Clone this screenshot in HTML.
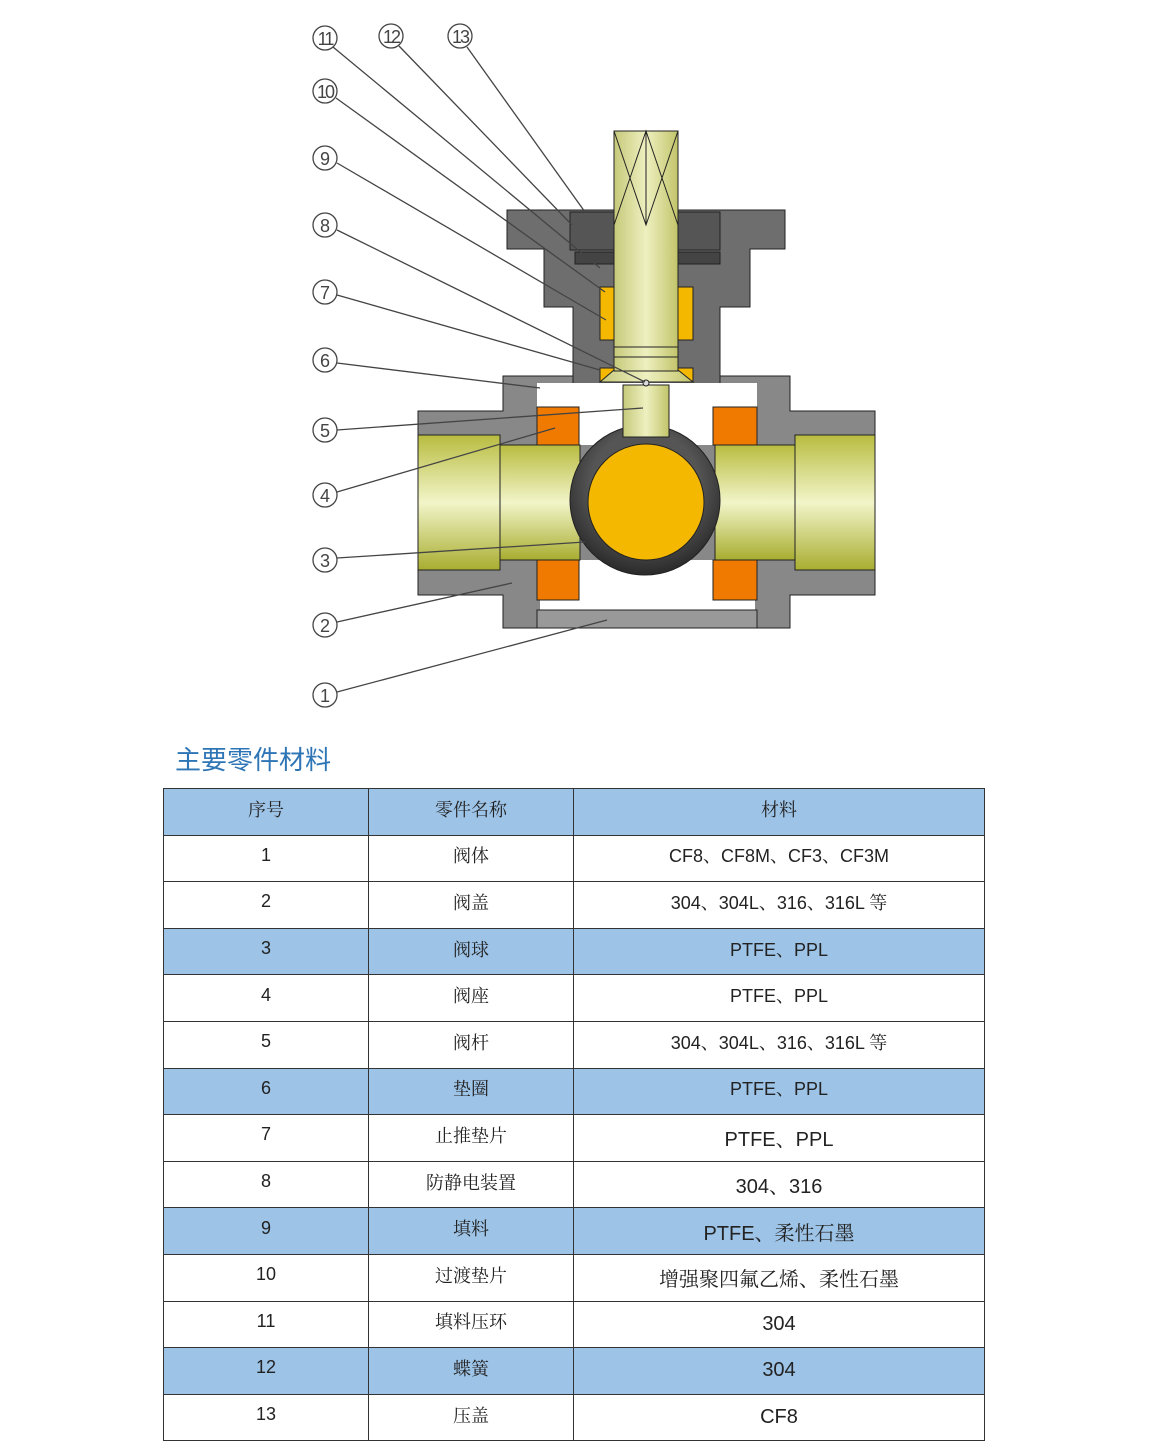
<!DOCTYPE html>
<html><head><meta charset="utf-8"><style>
html,body{margin:0;padding:0;background:#fff;width:1150px;height:1454px;overflow:hidden;position:relative;font-family:"Liberation Sans","Noto Sans CJK SC",sans-serif}
svg{position:absolute;left:0;top:0}
.title{position:absolute;left:175px;top:740px;font-size:26px;color:#2e75b6;font-family:"Noto Sans CJK SC",sans-serif;letter-spacing:0px}
table{position:absolute;left:163px;top:788px;border-collapse:collapse;width:822px}
td{border:1px solid #333;height:39.6px;padding:0 0 6px 0;text-align:center;font-size:18px;color:#222;font-family:"Liberation Sans","Noto Serif CJK SC",serif;vertical-align:middle}
tr.b td{background:#9dc3e6}
td.c1{width:204px}td.c2{width:204px}
td.big{font-size:20px;padding:0}
</style></head><body>
<svg width="1150" height="740" viewBox="0 0 1150 740">
<defs>
<linearGradient id="br" x1="0" y1="0" x2="0" y2="1"><stop offset="0" stop-color="#b8bc40"/><stop offset="0.5" stop-color="#f2f5c8"/><stop offset="1" stop-color="#a8ad30"/></linearGradient>
<linearGradient id="st" x1="0" y1="0" x2="1" y2="0"><stop offset="0" stop-color="#c6c97a"/><stop offset="0.5" stop-color="#eef0c0"/><stop offset="1" stop-color="#c2c46a"/></linearGradient>
<radialGradient id="ball" cx="0.5" cy="0.4" r="0.6"><stop offset="0.6" stop-color="#555"/><stop offset="1" stop-color="#2a2a2a"/></radialGradient>
</defs>
<g stroke="#222" stroke-width="1">
<path d="M418 411 H503 V376 H790 V411 H875 V595 H790 V628 H503 V595 H418 Z" fill="#888"/>
<path d="M507 210 H785 V249 H750 V307 H720 V385 H573 V307 H544 V249 H507 Z" fill="#6e6e6e"/>
<rect x="570" y="212" width="150" height="38" fill="#555"/>
<rect x="575" y="252" width="145" height="12" fill="#444"/>
<rect x="600" y="287" width="14" height="53" fill="#f5b800"/>
<rect x="678" y="287" width="15" height="53" fill="#f5b800"/>
<rect x="600" y="368" width="14" height="14" fill="#f5b800"/>
<rect x="678" y="368" width="15" height="14" fill="#f5b800"/>
<rect x="537" y="383" width="220" height="24" fill="#fff" stroke="none"/>
<rect x="579" y="383" width="134" height="62" fill="#fff" stroke="none"/>
<rect x="579" y="560" width="134" height="50" fill="#fff" stroke="none"/>
<rect x="540" y="600" width="215" height="10" fill="#fff" stroke="none"/>
<rect x="537" y="610" width="220" height="18" fill="#999"/>
<rect x="418" y="435" width="82" height="135" fill="url(#br)"/>
<rect x="500" y="445" width="80" height="115" fill="url(#br)"/>
<rect x="795" y="435" width="80" height="135" fill="url(#br)"/>
<rect x="715" y="445" width="80" height="115" fill="url(#br)"/>
<rect x="537" y="407" width="42" height="38" fill="#f07a00"/>
<rect x="537" y="560" width="42" height="40" fill="#f07a00"/>
<rect x="713" y="407" width="44" height="38" fill="#f07a00"/>
<rect x="713" y="560" width="44" height="40" fill="#f07a00"/>
<circle cx="645" cy="500" r="75" fill="url(#ball)"/>
<circle cx="646" cy="502" r="58" fill="#f5b800"/>
<rect x="623" y="385" width="46" height="52" fill="url(#st)"/>
<path d="M600 382 L614 370 H678 L693 382 Z" fill="url(#st)"/>
<rect x="614" y="131" width="64" height="240" fill="url(#st)"/>
<path d="M614 225 V131 H678 V225 M646 131 V225 M614 131 L646 225 L678 131 M614 225 L646 131 L678 225" fill="none"/>
<line x1="614" y1="347" x2="678" y2="347"/><line x1="614" y1="357" x2="678" y2="357"/>
<circle cx="646" cy="383" r="3" fill="#ddd"/>
</g>
<g stroke="#444" stroke-width="1.3" fill="none">
<line x1="333" y1="47" x2="600" y2="268"/>
<line x1="399" y1="46" x2="572" y2="225"/>
<line x1="467" y1="47" x2="585" y2="212"/>
<line x1="336" y1="98" x2="605" y2="292"/>
<line x1="337" y1="163" x2="606" y2="320"/>
<line x1="337" y1="230" x2="645" y2="382"/>
<line x1="337" y1="295" x2="600" y2="370"/>
<line x1="337" y1="363" x2="540" y2="388"/>
<line x1="337" y1="430" x2="643" y2="408"/>
<line x1="337" y1="492" x2="555" y2="428"/>
<line x1="337" y1="558" x2="585" y2="542"/>
<line x1="337" y1="622" x2="512" y2="583"/>
<line x1="337" y1="692" x2="607" y2="620"/>
</g>
<g fill="#fff" stroke="#444" stroke-width="1.3">
<circle cx="325" cy="38" r="12"/><circle cx="391" cy="36" r="12"/><circle cx="460" cy="36" r="12"/>
<circle cx="325" cy="91" r="12"/><circle cx="325" cy="158" r="12"/><circle cx="325" cy="225" r="12"/>
<circle cx="325" cy="292" r="12"/><circle cx="325" cy="360" r="12"/><circle cx="325" cy="430" r="12"/>
<circle cx="325" cy="495" r="12"/><circle cx="325" cy="560" r="12"/><circle cx="325" cy="625" r="12"/>
<circle cx="325" cy="695" r="12"/>
</g>
<g font-family="Liberation Sans,sans-serif" font-size="18" fill="#444" text-anchor="middle">
<text x="325" y="45" letter-spacing="-2">11</text><text x="391" y="43" letter-spacing="-2">12</text><text x="460" y="43" letter-spacing="-2">13</text>
<text x="325" y="98" letter-spacing="-2">10</text><text x="325" y="165">9</text><text x="325" y="232">8</text>
<text x="325" y="299">7</text><text x="325" y="367">6</text><text x="325" y="437">5</text>
<text x="325" y="502">4</text><text x="325" y="567">3</text><text x="325" y="632">2</text><text x="325" y="702">1</text>
</g>
</svg>
<div class="title">主要零件材料</div>
<table>
<tr class="b"><td class="c1">序号</td><td class="c2">零件名称</td><td>材料</td></tr>
<tr><td>1</td><td>阀体</td><td>CF8、CF8M、CF3、CF3M</td></tr>
<tr><td>2</td><td>阀盖</td><td>304、304L、316、316L 等</td></tr>
<tr class="b"><td>3</td><td>阀球</td><td>PTFE、PPL</td></tr>
<tr><td>4</td><td>阀座</td><td>PTFE、PPL</td></tr>
<tr><td>5</td><td>阀杆</td><td>304、304L、316、316L 等</td></tr>
<tr class="b"><td>6</td><td>垫圈</td><td>PTFE、PPL</td></tr>
<tr><td>7</td><td>止推垫片</td><td class="big">PTFE、PPL</td></tr>
<tr><td>8</td><td>防静电装置</td><td class="big">304、316</td></tr>
<tr class="b"><td>9</td><td>填料</td><td class="big">PTFE、柔性石墨</td></tr>
<tr><td>10</td><td>过渡垫片</td><td class="big">增强聚四氟乙烯、柔性石墨</td></tr>
<tr><td>11</td><td>填料压环</td><td class="big">304</td></tr>
<tr class="b"><td>12</td><td>蝶簧</td><td class="big">304</td></tr>
<tr><td>13</td><td>压盖</td><td class="big">CF8</td></tr>
</table>
</body></html>
